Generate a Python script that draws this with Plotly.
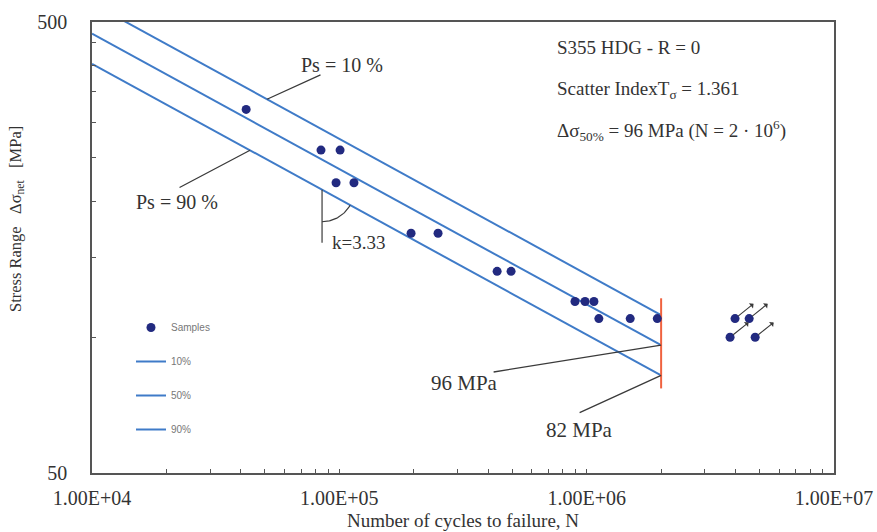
import numpy as np
import plotly.graph_objects as go

# ---------------- data ----------------
fail_N = [42000, 84300, 100700, 97000, 114600, 195000, 250700, 434500, 494700,
          897000, 985000, 1070000, 1120000, 1500000, 1930000]
fail_S = [320, 260, 260, 220, 220, 170, 170, 140, 140,
          120, 120, 120, 110, 110, 110]
runout_N = [3980000, 4540000, 3800000, 4800000]
runout_S = [110, 110, 100, 100]

sn_N = [1e4, 2e6]
sn_10 = [549.8, 112.0]
sn_50 = [471.3, 96.0]
sn_90 = [404.0, 82.3]

ref_N = [2e6, 2e6]
ref_S = [77, 122]

x_tickvals = [1e4, 1e5, 1e6, 1e7]
x_ticktext = ["1.00E+04", "1.00E+05", "1.00E+06", "1.00E+07"]
y_tickvals = [50, 500]
y_ticktext = ["50", "500"]
x_minor = [m * 10 ** d for d in (4, 5, 6) for m in range(2, 10)]
y_minor = [100, 150, 200, 250, 300, 350, 400, 450]

# ---------------- style ----------------
W, H = 877, 532
ML, MR, MT, MB = 92, 43, 22, 59
PW, PH = W - ML - MR, H - MT - MB
XDEC, YDEC = 3.0, 1.0
PX_X = PW / XDEC
PX_Y = PH / YDEC
SERIF = "Liberation Serif, Times New Roman, serif"
LINE_BLUE = "#3f7bc8"
DOT = "#222a80"
GREY = "#3a3a3a"


def on_curve(n, curve):
    ln = np.log10(n)
    ls = np.interp(ln, np.log10(sn_N), np.log10(curve))
    return ln, ls


fig = go.Figure()

for name, curve, rank in (("10%", sn_10, 2), ("50%", sn_50, 3), ("90%", sn_90, 4)):
    fig.add_trace(go.Scatter(x=sn_N, y=curve, mode="lines", name=name,
                             legendgroup=name, legendrank=rank,
                             line=dict(color=LINE_BLUE, width=2)))

fig.add_trace(go.Scatter(x=ref_N, y=ref_S, mode="lines", showlegend=False,
                         line=dict(color="#f0623f", width=2)))

# k = 3.33 slope marker (vertical line + arc from a point on the 90% line)
n0 = 85140
lx0, ls0 = on_curve(n0, sn_90)
fig.add_trace(go.Scatter(x=[10 ** lx0, 10 ** lx0], y=[10 ** ls0, 10 ** (ls0 - 53 / PX_Y)],
                         mode="lines", showlegend=False,
                         line=dict(color=GREY, width=1.2)))
slope_px = (np.log10(sn_90[0]) - np.log10(sn_90[1])) / (np.log10(sn_N[1]) - np.log10(sn_N[0])) * PX_Y / PX_X
th_end = np.arctan2(1.0, slope_px)
th = np.linspace(0, th_end, 30)
r = 32
fig.add_trace(go.Scatter(x=10 ** (lx0 + r * np.sin(th) / PX_X),
                         y=10 ** (ls0 - r * np.cos(th) / PX_Y),
                         mode="lines", showlegend=False,
                         line=dict(color=GREY, width=1.2)))

fig.add_trace(go.Scatter(x=fail_N, y=fail_S, mode="markers", name="Samples",
                         legendgroup="Samples", legendrank=1,
                         marker=dict(color=DOT, size=9)))
fig.add_trace(go.Scatter(x=runout_N, y=runout_S, mode="markers", showlegend=False,
                         marker=dict(color=DOT, size=9)))

ann = []
# run-out arrows
for n, s in zip(runout_N, runout_S):
    ann.append(dict(x=np.log10(n), y=np.log10(s), xref="x", yref="y", text="",
                    showarrow=True, ax=20, ay=-16, arrowside="start",
                    arrowhead=2, arrowsize=0.9, arrowwidth=1.1, arrowcolor=GREY,
                    standoff=4))


def leader(px, py, ax, ay, text, xs, ys, size):
    ann.append(dict(x=px, y=py, xref="x", yref="y", text="", showarrow=True,
                    ax=ax, ay=ay, arrowhead=0, arrowwidth=1.3, arrowcolor=GREY))
    ann.append(dict(x=px, y=py, xref="x", yref="y", text=text, showarrow=False,
                    xshift=xs, yshift=ys, xanchor="center", yanchor="middle",
                    font=dict(family=SERIF, size=size, color="#333")))


lx, ly = on_curve(51000, sn_10)
leader(lx, ly, 55, -25, "Ps = 10 %", 75, 34, 20)
lx, ly = on_curve(43550, sn_90)
leader(lx, ly, -72, 38, "Ps = 90 %", -73, -52, 20)
lx, ly = on_curve(2e6, sn_50)
leader(lx, ly, -169, 27, "96 MPa", -197, -38, 21)
lx, ly = on_curve(2e6, sn_90)
leader(lx, ly, -83, 38, "82 MPa", -82, -55, 21)

ann.append(dict(x=lx0, y=ls0, xref="x", yref="y", text="k=3.33", showarrow=False,
                xshift=36, yshift=-53, xanchor="center", yanchor="middle",
                font=dict(family=SERIF, size=19, color="#333")))

# info text box
info = ["S355 HDG - R = 0",
        "Scatter IndexT<sub>σ</sub> = 1.361",
        "Δσ<sub>50%</sub> = 96 MPa (N = 2 · 10<sup>6</sup>)"]
for t, ypx in zip(info, (47, 90, 130)):
    ann.append(dict(x=(555 - ML) / PW, y=(MT + PH - ypx) / PH, xref="paper", yref="paper",
                    text=t, showarrow=False, xanchor="left", yanchor="middle",
                    font=dict(family=SERIF, size=19, color="#333")))

# y-axis title (placed as rotated text beside the axis)
ann.append(dict(x=(16 - ML) / PW, y=(MT + PH - 219) / PH, xref="paper", yref="paper",
                text="Stress Range&nbsp;&nbsp;&nbsp;Δσ<sub>net</sub>&nbsp;&nbsp;&nbsp;[MPa]",
                textangle=-90, showarrow=False, xanchor="center", yanchor="middle",
                font=dict(family=SERIF, size=16.5, color="#333")))

axis_common = dict(type="log", showline=True, mirror=True, linecolor="#555", linewidth=1.5,
                   ticks="inside", ticklen=4, tickcolor="#555", showgrid=False, zeroline=False,
                   automargin=False,
                   tickfont=dict(family=SERIF, size=20, color="#333"))

fig.update_layout(
    width=W, height=H,
    margin=dict(l=ML, r=MR, t=MT, b=MB, autoexpand=False),
    paper_bgcolor="white", plot_bgcolor="white",
    annotations=ann,
    showlegend=True,
    legend=dict(x=(131 - ML) / PW, y=(MT + PH - 313) / PH, xanchor="left", yanchor="top",
                bgcolor="rgba(0,0,0,0)", tracegroupgap=15,
                font=dict(family="Liberation Sans, Arial, sans-serif", size=10, color="#777")),
    xaxis=dict(axis_common, range=[4, 7], tickvals=x_tickvals, ticktext=x_ticktext,
               ticklabelstandoff=6,
               minor=dict(tickmode="array", tickvals=x_minor, ticks="inside", ticklen=4,
                          tickcolor="#555"),
               title=dict(text="Number of cycles to failure, N", standoff=6,
                          font=dict(family=SERIF, size=19, color="#333"))),
    yaxis=dict(axis_common, range=[np.log10(50), np.log10(500)], tickvals=y_tickvals,
               ticktext=y_ticktext, ticklabelstandoff=19,
               minor=dict(tickmode="array", tickvals=y_minor, ticks="inside", ticklen=4,
                          tickcolor="#555")),
)

fig.write_html("out.html")
